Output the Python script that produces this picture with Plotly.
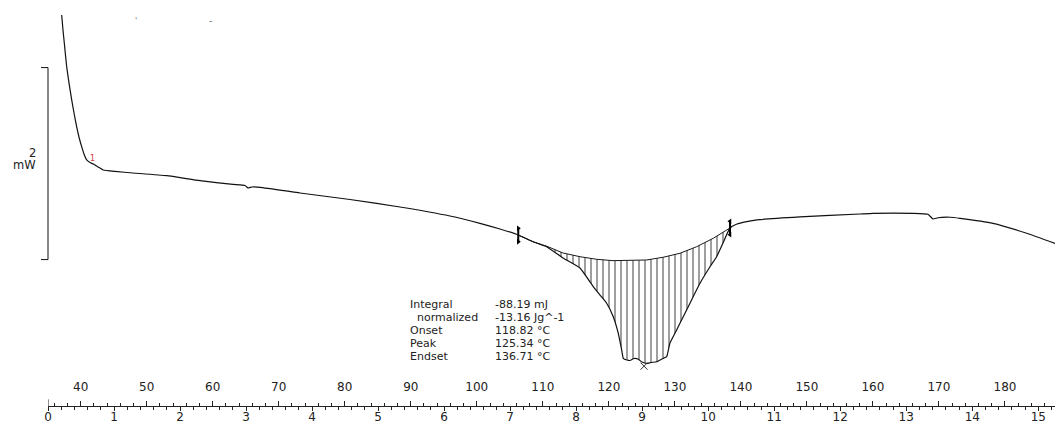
import numpy as np
import plotly.graph_objects as go

# ---------------- data ----------------
# DSC curve: sample temperature (°C) and heat flow (mW, arbitrary offset)
temperature_c = [37.12, 37.32, 37.55, 37.88, 38.23, 38.64, 38.99, 39.39, 39.74, 40.15,
                 40.50, 40.91, 41.41, 41.91, 42.62, 43.42, 45.20, 47.92, 53.03, 58.07,
                 63.07, 64.89, 65.34, 65.95, 67.16, 73.22, 80.79, 88.36, 95.94, 100.48,
                 103.51, 106.28, 108.51, 110.58, 113.05, 115.63, 117.64, 118.66, 119.67, 120.67,
                 121.43, 121.95, 122.19, 122.75, 123.20, 123.81, 124.41, 125.02, 125.73, 126.38,
                 127.25, 128.05, 128.76, 129.26, 130.27, 131.27, 132.29, 133.80, 135.32, 136.33,
                 137.29, 138.35, 139.41, 140.88, 142.44, 148.95, 158.04, 160.01, 166.07, 168.34,
                 169.10, 169.85, 171.67, 173.19, 178.19, 183.29, 187.58]
heat_flow_mw = [2.448, 2.292, 2.135, 1.909, 1.740, 1.563, 1.427, 1.284, 1.177, 1.076,
                1.000, 0.938, 0.911, 0.896, 0.865, 0.833, 0.818, 0.802, 0.774, 0.722,
                0.684, 0.672, 0.646, 0.656, 0.653, 0.594, 0.526, 0.448, 0.354, 0.278,
                0.219, 0.156, 0.086, 0.034, -0.083, -0.188, -0.382, -0.469, -0.555, -0.695,
                -0.868, -1.042, -1.128, -1.146, -1.151, -1.130, -1.135, -1.167, -1.182, -1.172,
                -1.164, -1.135, -1.111, -0.969, -0.833, -0.695, -0.555, -0.347, -0.174, -0.070,
                0.073, 0.229, 0.271, 0.295, 0.313, 0.344, 0.375, 0.382, 0.382, 0.372,
                0.323, 0.336, 0.341, 0.330, 0.278, 0.174, 0.068]

# integration baseline (spline) under the melting peak
baseline_temp_c = [106.28, 108.51, 110.58, 113.05, 115.63, 118.16, 120.63, 123.20,
                   125.73, 128.20, 130.78, 133.30, 135.82, 137.85, 138.35]
baseline_mw = [0.156, 0.086, 0.040, -0.031, -0.070, -0.097, -0.111, -0.111,
               -0.104, -0.076, -0.034, 0.034, 0.122, 0.208, 0.229]

limit_left_c = 106.28
limit_right_c = 138.35
peak_temp_c = 125.34
peak_marker_mw = -1.21

result_labels = ["Integral", "  normalized", "Onset", "Peak", "Endset"]
result_values = ["-88.19 mJ", "-13.16 Jg^-1", "118.82 °C", "125.34 °C", "136.71 °C"]

temp_tick_values = [40, 50, 60, 70, 80, 90, 100, 110, 120, 130, 140, 150, 160, 170, 180]
time_tick_values = list(range(0, 16))
scale_bar_mw = 2.0
scale_bar_bottom_mw = -0.10
heating_rate = 10.0      # K/min
start_temp_c = 35.05     # temperature at t = 0 min
end_temp_c = 187.58

# ---------------- layout helpers ----------------
W, H = 1055, 423
B = 17
PH = H - B
Y_RANGE = [-1.625, 2.604]
X_DOMAIN = [48 / W, 1.0]


def px(x):
    return x / W


def py(y):
    return 1 - y / PH


FONT = "DejaVu Sans"
TXT = "#222222"

T = np.array(temperature_c)
Q = np.array(heat_flow_mw)

fig = go.Figure()

# hatched integration area
mask = (T >= limit_left_c) & (T <= limit_right_c)
poly_x = list(T[mask]) + list(baseline_temp_c[::-1])
poly_y = list(Q[mask]) + list(baseline_mw[::-1])
fig.add_trace(go.Scatter(
    x=poly_x, y=poly_y, mode="lines", fill="toself",
    fillcolor="white", line=dict(width=0, color="rgba(0,0,0,0)"),
    fillpattern=dict(shape="|", size=6, solidity=0.25, fgcolor="#000000", bgcolor="white"),
    hoverinfo="skip", showlegend=False))

# baseline
fig.add_trace(go.Scatter(x=baseline_temp_c, y=baseline_mw, mode="lines",
                         line=dict(color="#1a1a1a", width=1), showlegend=False))

# DSC curve
fig.add_trace(go.Scatter(x=temperature_c, y=heat_flow_mw, mode="lines",
                         line=dict(color="#111111", width=1.2, shape="spline", smoothing=0.4),
                         showlegend=False))

# integration limit markers
for lim, sym in [(limit_left_c, "triangle-right"), (limit_right_c, "triangle-left")]:
    yc = float(np.interp(lim, T, Q))
    fig.add_trace(go.Scatter(x=[lim, lim], y=[yc - 0.07, yc + 0.07], mode="lines+markers",
                             line=dict(color="black", width=2),
                             marker=dict(symbol=sym, size=5, color="black"),
                             showlegend=False))

# peak marker
fig.add_trace(go.Scatter(x=[peak_temp_c], y=[peak_marker_mw], mode="markers",
                         marker=dict(symbol="x-thin", size=7, line=dict(color="#333", width=1)),
                         showlegend=False))

# scale bar (2 mW)
y0, y1 = scale_bar_bottom_mw, scale_bar_bottom_mw + scale_bar_mw
for s in [dict(x0=px(48), x1=px(48), y0=y0, y1=y1),
          dict(x0=px(41), x1=px(48), y0=y0, y1=y0),
          dict(x0=px(41), x1=px(48), y0=y1, y1=y1)]:
    fig.add_shape(type="line", xref="paper", yref="y", line=dict(color="#111", width=1), **s)

annotations = [
    dict(x=px(38), y=py(153), text=f"{scale_bar_mw:g}", xanchor="right"),
    dict(x=px(38), y=py(165), text="mW", xanchor="right"),
]
for a in annotations:
    a.update(xref="paper", yref="paper", yanchor="middle", showarrow=False,
             font=dict(family=FONT, size=11.5, color=TXT))

# results block: two columns, line pitch 1.3 * 10 px = 13 px
SPAN = '<span style="font-size:11px">{}</span>'
left_col = "<br>".join(SPAN.format(l.replace(" ", "&nbsp;")) for l in result_labels)
right_col = "<br>".join(SPAN.format(v) for v in result_values)
for x_left, txt in [(409, left_col), (494, right_col)]:
    annotations.append(dict(x=px(x_left), y=py(330), xref="paper", yref="paper",
                            text=txt, xanchor="left", yanchor="middle", align="left",
                            showarrow=False, borderpad=0,
                            font=dict(family=FONT, size=10, color=TXT)))
fig.update_layout(annotations=annotations)
fig.add_annotation(x=px(87.5), y=py(158), xref="paper", yref="paper", text="1",
                   showarrow=False, font=dict(family=FONT, size=8, color="#d03a3a"))
fig.add_annotation(x=px(133), y=py(15), xref="paper", yref="paper", text="'",
                   showarrow=False, font=dict(family=FONT, size=8, color="#777"))
fig.add_annotation(x=px(207), y=py(14), xref="paper", yref="paper", text="-",
                   showarrow=False, font=dict(family=FONT, size=9, color="#555"))

time_end = (end_temp_c - start_temp_c) / heating_rate
fig.update_layout(
    width=W, height=H,
    margin=dict(l=0, r=0, t=0, b=B, pad=0),
    paper_bgcolor="white", plot_bgcolor="white",
    showlegend=False,
    xaxis=dict(domain=X_DOMAIN, range=[start_temp_c, end_temp_c], side="top",
               anchor="free", position=0, showline=True, linecolor="#222", linewidth=1,
               automargin=False,
               ticks="outside", ticklen=5, tickcolor="#222", tickwidth=1,
               tickvals=temp_tick_values, ticklabelstandoff=5,
               minor=dict(dtick=2, tick0=0, ticklen=3, ticks="outside", tickcolor="#222"),
               showgrid=False, zeroline=False,
               tickfont=dict(family=FONT, size=12, color=TXT)),
    xaxis2=dict(domain=X_DOMAIN, range=[0, time_end], side="bottom", overlaying="x",
                anchor="free", position=0, showline=True, linecolor="#222", linewidth=1,
                automargin=False,
                ticks="outside", ticklen=4, tickcolor="#222", tickwidth=1,
                tickvals=time_tick_values, ticklabelstandoff=-4,
                minor=dict(dtick=0.2, tick0=0, ticklen=3, ticks="outside", tickcolor="#222"),
                showgrid=False, zeroline=False,
                tickfont=dict(family=FONT, size=12, color=TXT)),
    yaxis=dict(range=Y_RANGE, visible=False, domain=[0, 1], automargin=False),
)

# small start tick of the time axis
fig.add_trace(go.Scatter(x=[0, 0], y=[Y_RANGE[0], Y_RANGE[0] + 0.07], xaxis="x2", yaxis="y",
                         mode="lines", line=dict(color="#222", width=1), cliponaxis=False,
                         showlegend=False, hoverinfo="skip"))

fig.write_html("out.html")
